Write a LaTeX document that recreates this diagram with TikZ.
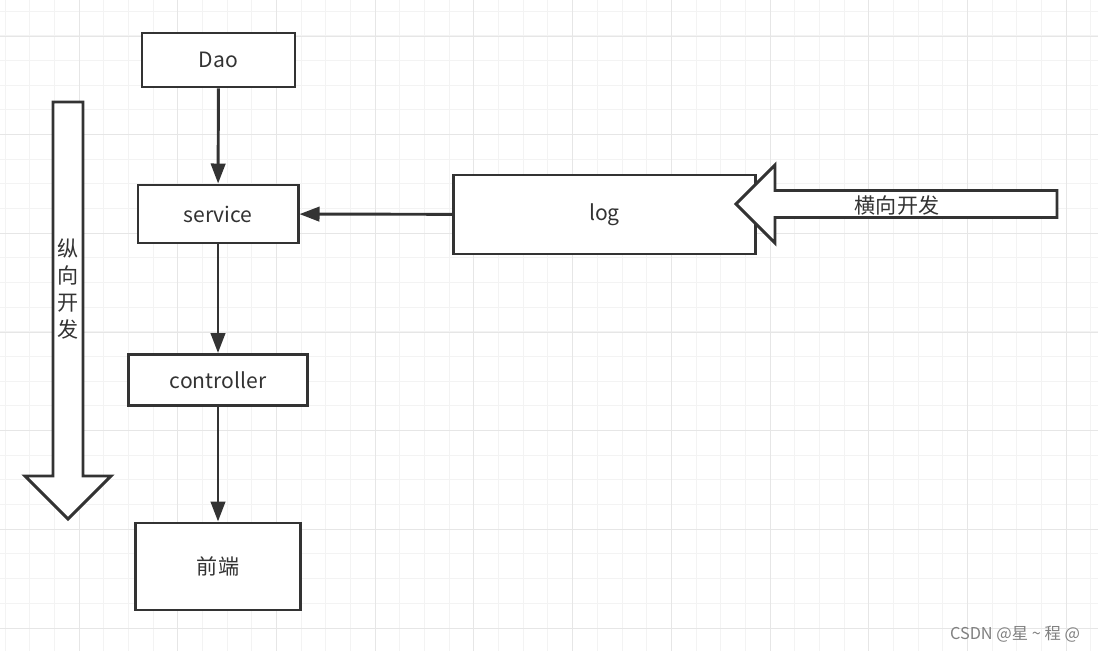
\documentclass[tikz,border=0pt]{standalone}
\usepackage{fontspec}
\setmainfont{Noto Sans CJK SC}
\usetikzlibrary{positioning, arrows.meta}
\definecolor{linegray}{HTML}{333333}
\definecolor{gridminor}{HTML}{F3F3F3}
\definecolor{gridmajor}{HTML}{E6E6E6}
\tikzset{layer/.style={draw=linegray, line width=2.1pt, fill=white, text=linegray, font=\fontsize{15}{18}\selectfont}}
\tikzset{flow/.style={draw=linegray, line width=2.1pt, -{Triangle[length=0.5cm, width=0.36cm]}}}
\tikzset{bigarrow/.style={draw=linegray, line width=2.1pt, fill=white, line join=miter}}
\tikzset{caption/.style={text=linegray, font=\fontsize{15}{19.2}\selectfont, align=center, inner sep=0pt}}

\begin{document}
\begin{tikzpicture}[x=0.025cm, y=-0.025cm]
      \useasboundingbox[fill=white] (0,0) rectangle (1098,651);
      \foreach \i in {0,...,44} \draw[gridminor, line width=0.7pt] (5+\i*24.68,0) -- (5+\i*24.68,651);
      \foreach \i in {0,...,25} \draw[gridminor, line width=0.7pt] (0,11+\i*24.68) -- (1098,11+\i*24.68);
      \foreach \i in {0,...,10} \draw[gridmajor, line width=0.7pt] (79+\i*98.72,0) -- (79+\i*98.72,651);
      \foreach \i in {0,...,6} \draw[gridmajor, line width=0.7pt] (0,36+\i*98.72) -- (1098,36+\i*98.72);

      \node[layer, minimum width=3.825cm, minimum height=1.35cm] (dao) at (218.5,60) {Dao};
      \node[layer, minimum width=4cm, minimum height=1.45cm] (service) at (218,214) {service};
      \node[layer, minimum width=4.475cm, minimum height=1.275cm] (controller) at (218,380) {controller};
      \node[layer, minimum width=4.125cm, minimum height=2.175cm] (front) at (218,566.5) {前端};
      \node[layer, minimum width=7.525cm, minimum height=1.975cm] (log) at (604.5,214.5) {log};

      \draw[flow] (dao) -- (service);
      \draw[flow] (service) -- (controller);
      \draw[flow] (controller) -- (front);
      \draw[flow] (log) -- (service);

      \draw[bigarrow] (53,102) -- (83,102) -- (83,476) -- (111,476) -- (68,519) -- (25,476) -- (53,476) -- cycle;
      \node[caption] (vertical) at (68,289) {纵\\向\\开\\发};

      \draw[bigarrow] (1057,190.5) -- (1057,217.5) -- (775,217.5) -- (775,243) -- (736,204) -- (775,165) -- (775,190.5) -- cycle;
      \node[caption] (horizontal) at (897,205) {横向开发};

      \node[text=gray, font=\fontsize{11.6}{14}\selectfont, inner sep=0pt] (mark) at (1015,634) {CSDN @星 \textasciitilde{} 程 @};
    \end{tikzpicture}
\end{document}
